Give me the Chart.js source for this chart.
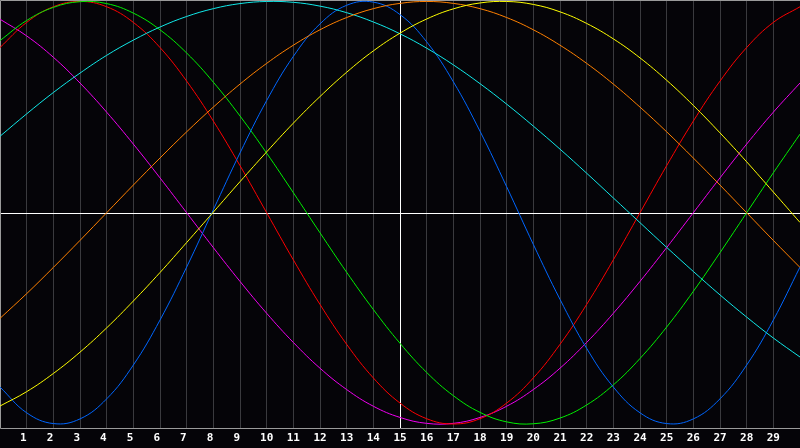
<!DOCTYPE html>
<html lang="en">

<head>
    <meta charset="UTF-8" />
    <title>Cycles</title>
    <script src="https://cdn.jsdelivr.net/npm/chart.js"></script>
    <style>
        body {
            margin: 0;
            padding: 0;
            background: #050408;
        }

        #wrap {
            width: 800px;
            height: 448px;
        }
    </style>
</head>

<body>
    <div id="wrap">
        <canvas id="cycleChart" width="800" height="448"></canvas>
    </div>

    <script>
        // days along the x axis (0..30), tick labels 1..29
        const days = [0, 1, 2, 3, 4, 5, 6, 7, 8, 9, 10, 11, 12, 13, 14, 15, 16, 17, 18, 19, 20, 21, 22, 23, 24, 25, 26, 27, 28, 29, 30];
        const dayLabels = ['1', '2', '3', '4', '5', '6', '7', '8', '9', '10', '11', '12', '13', '14', '15',
            '16', '17', '18', '19', '20', '21', '22', '23', '24', '25', '26', '27', '28', '29'];
        const markerDay = 15;

        // values, one per day
        const redVals = [0.782, 0.901, 0.975, 1.000, 0.975, 0.901, 0.782, 0.623, 0.434, 0.223, 0.000, -0.223, -0.434, -0.623, -0.782, -0.901,
            -0.975, -1.000, -0.975, -0.901, -0.782, -0.623, -0.434, -0.223, 0.000, 0.223, 0.434, 0.623, 0.782, 0.901, 0.975];
        const greenVals = [0.815, 0.910, 0.972, 0.999, 0.990, 0.945, 0.866, 0.756, 0.618, 0.458, 0.282, 0.095, -0.095, -0.282, -0.458, -0.618,
            -0.756, -0.866, -0.945, -0.990, -0.999, -0.972, -0.910, -0.815, -0.690, -0.541, -0.372, -0.189, 0.000, 0.189, 0.372];
        const blueVals = [-0.825, -0.947, -0.998, -0.976, -0.881, -0.721, -0.508, -0.257, 0.014, 0.283, 0.531, 0.740, 0.894, 0.982, 0.997, 0.938,
            0.809, 0.620, 0.386, 0.123, -0.150, -0.410, -0.642, -0.825, -0.947, -0.998, -0.976, -0.881, -0.721, -0.508, -0.257];
        const magentaVals = [0.916, 0.837, 0.736, 0.614, 0.476, 0.325, 0.165, 0.000, -0.165, -0.325, -0.476, -0.614, -0.736, -0.837, -0.916, -0.969,
            -0.997, -0.997, -0.969, -0.916, -0.837, -0.736, -0.614, -0.476, -0.325, -0.165, 0.000, 0.165, 0.325, 0.476, 0.614];
        const orangeVals = [-0.500, -0.383, -0.259, -0.131, 0.000, 0.131, 0.259, 0.383, 0.500, 0.609, 0.707, 0.793, 0.866, 0.924, 0.966, 0.991,
            1.000, 0.991, 0.966, 0.924, 0.866, 0.793, 0.707, 0.609, 0.500, 0.383, 0.259, 0.131, 0.000, -0.131, -0.259];
        const yellowVals = [-0.915, -0.847, -0.761, -0.660, -0.545, -0.418, -0.283, -0.141, 0.003, 0.147, 0.288, 0.424, 0.550, 0.665, 0.766, 0.850,
            0.917, 0.965, 0.993, 1.000, 0.986, 0.951, 0.896, 0.823, 0.733, 0.627, 0.508, 0.378, 0.241, 0.098, -0.046];
        const cyanVals = [0.362, 0.468, 0.569, 0.661, 0.745, 0.817, 0.879, 0.929, 0.966, 0.990, 1.000, 0.996, 0.978, 0.947, 0.903, 0.847,
            0.779, 0.700, 0.611, 0.514, 0.410, 0.301, 0.187, 0.070, -0.047, -0.164, -0.278, -0.389, -0.494, -0.593, -0.683];

        const seriesList = [
            { vals: yellowVals, color: '#ffff00' },
            { vals: orangeVals, color: '#ff8000' },
            { vals: cyanVals, color: '#10e8e8' },
            { vals: blueVals, color: '#0066ff' },
            { vals: greenVals, color: '#00f000' },
            { vals: redVals, color: '#ff0000' },
            { vals: magentaVals, color: '#f000f0' }
        ];

        // background, day grid, center cross and frame
        const framePlugin = {
            id: 'frame',
            beforeDraw(chart) {
                const c = chart.ctx;
                c.save();
                c.fillStyle = '#050408';
                c.fillRect(0, 0, chart.width, chart.height);
                c.restore();
            },
            beforeDatasetsDraw(chart) {
                const c = chart.ctx;
                const a = chart.chartArea;
                const xs = chart.scales.x;
                const ys = chart.scales.y;
                c.save();
                c.lineWidth = 1;
                c.strokeStyle = '#3a3a3e';
                days.forEach(d => {
                    if (d === 0 || d === 30) return;
                    const px = Math.floor(xs.getPixelForValue(d)) + 0.5;
                    c.beginPath();
                    c.moveTo(px, a.top);
                    c.lineTo(px, a.bottom);
                    c.stroke();
                });
                c.strokeStyle = '#ffffff';
                const mx = Math.floor(xs.getPixelForValue(markerDay)) + 0.5;
                c.beginPath();
                c.moveTo(mx, a.top);
                c.lineTo(mx, a.bottom);
                c.stroke();
                const my = Math.round(ys.getPixelForValue(0)) + 0.5;
                c.beginPath();
                c.moveTo(a.left, my);
                c.lineTo(a.right, my);
                c.stroke();
                c.strokeStyle = '#9a9a9a';
                c.beginPath();
                c.moveTo(a.right, a.top + 0.5);
                c.lineTo(a.left + 0.5, a.top + 0.5);
                c.lineTo(a.left + 0.5, a.bottom + 0.5);
                c.lineTo(a.right, a.bottom + 0.5);
                c.stroke();
                c.restore();
            }
        };

        new Chart(document.getElementById('cycleChart'), {
            type: 'line',
            data: {
                datasets: seriesList.map(s => ({
                    data: days.map((d, i) => ({ x: d, y: s.vals[i] })),
                    borderColor: s.color,
                    borderWidth: 1,
                    pointRadius: 0,
                    tension: 0.4,
                    fill: false
                }))
            },
            options: {
                responsive: false,
                animation: false,
                layout: { padding: 0, autoPadding: false },
                plugins: {
                    legend: { display: false },
                    tooltip: { enabled: false }
                },
                scales: {
                    x: {
                        type: 'linear',
                        min: 0,
                        max: 30,
                        grid: { display: false, drawTicks: false },
                        border: { display: false },
                        ticks: {
                            stepSize: 1,
                            autoSkip: false,
                            maxRotation: 0,
                            padding: 4,
                            color: '#ffffff',
                            font: { family: 'DejaVu Sans Mono', size: 11, weight: 'bold' },
                            // single digits sit a little left of their line, as in the original
                            callback: v => (v >= 1 && v <= 29) ? dayLabels[v - 1].padEnd(2, ' ') : ''
                        },
                        afterFit(scale) {
                            scale.height = 20;
                            scale.paddingLeft = 0;
                            scale.paddingRight = 0;
                        }
                    },
                    y: {
                        display: false,
                        min: -1.019,
                        max: 1.007
                    }
                }
            },
            plugins: [framePlugin]
        });
    </script>
</body>

</html>
